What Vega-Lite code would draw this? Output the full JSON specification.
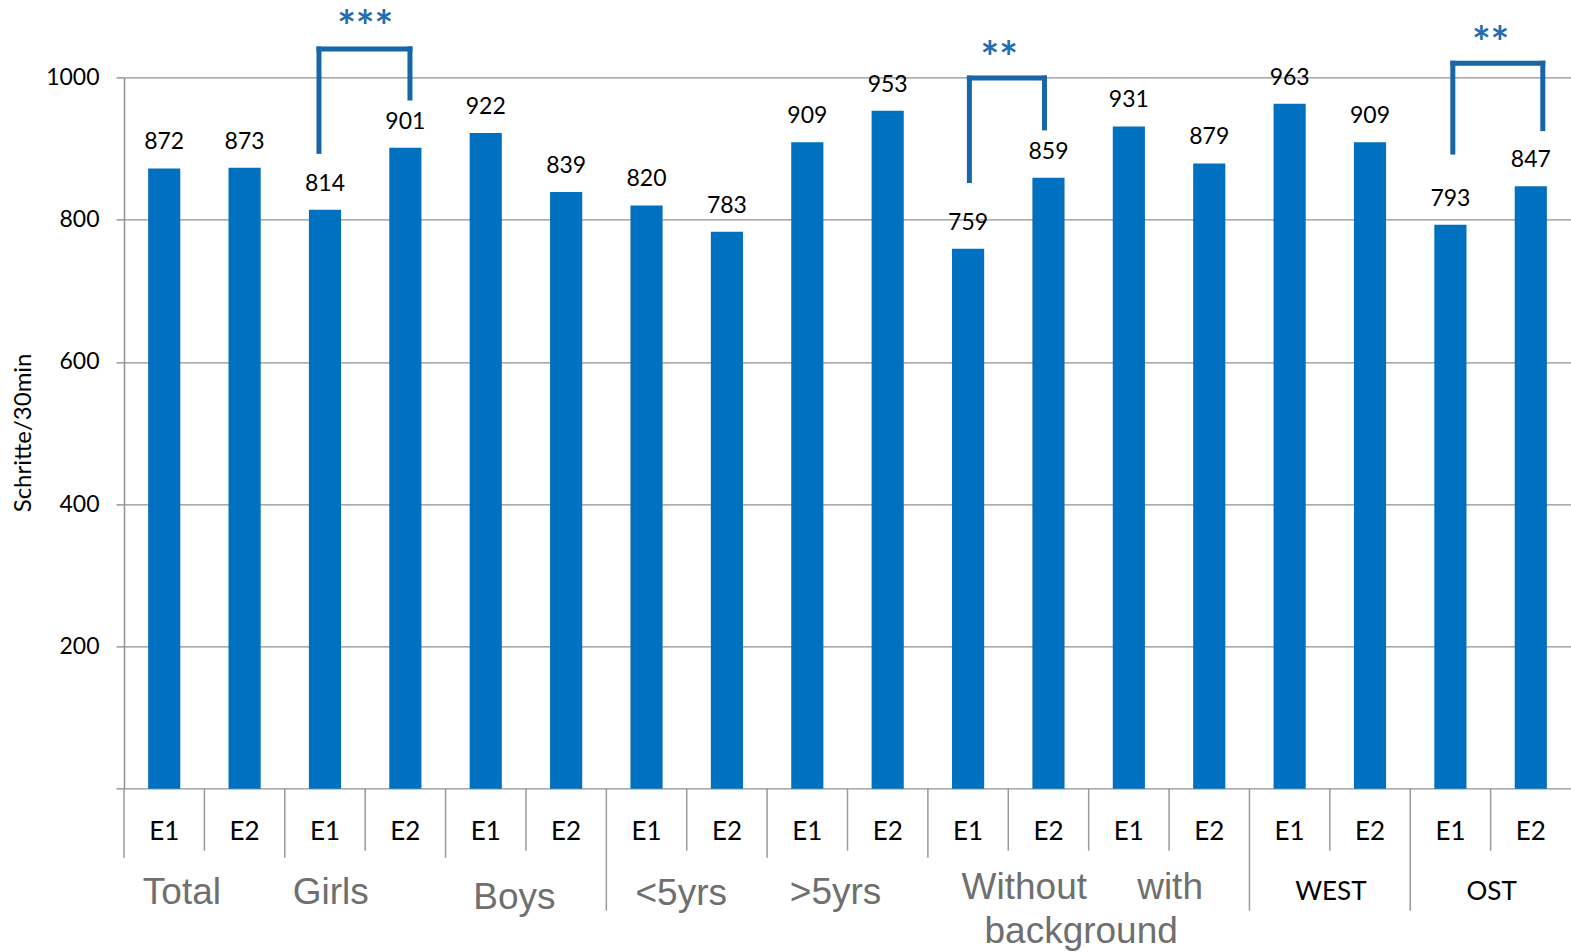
{
  "$schema": "https://vega.github.io/schema/vega-lite/v6.json",
  "autosize": "none",
  "padding": {"left": 124, "top": 77.4, "right": 0, "bottom": 163},
  "width": 1447,
  "height": 711.3,
  "background": "white",
  "config": {"view": {"stroke": null}, "font": "Lato"},
  "datasets": {
    "bars": [
      {"group": "Total", "phase": "E1", "slot": "Total|E1", "value": 872},
      {"group": "Total", "phase": "E2", "slot": "Total|E2", "value": 873},
      {"group": "Girls", "phase": "E1", "slot": "Girls|E1", "value": 814},
      {"group": "Girls", "phase": "E2", "slot": "Girls|E2", "value": 901},
      {"group": "Boys", "phase": "E1", "slot": "Boys|E1", "value": 922},
      {"group": "Boys", "phase": "E2", "slot": "Boys|E2", "value": 839},
      {"group": "<5yrs", "phase": "E1", "slot": "<5yrs|E1", "value": 820},
      {"group": "<5yrs", "phase": "E2", "slot": "<5yrs|E2", "value": 783},
      {"group": ">5yrs", "phase": "E1", "slot": ">5yrs|E1", "value": 909},
      {"group": ">5yrs", "phase": "E2", "slot": ">5yrs|E2", "value": 953},
      {"group": "Without", "phase": "E1", "slot": "Without|E1", "value": 759},
      {"group": "Without", "phase": "E2", "slot": "Without|E2", "value": 859},
      {"group": "with", "phase": "E1", "slot": "with|E1", "value": 931},
      {"group": "with", "phase": "E2", "slot": "with|E2", "value": 879},
      {"group": "WEST", "phase": "E1", "slot": "WEST|E1", "value": 963},
      {"group": "WEST", "phase": "E2", "slot": "WEST|E2", "value": 909},
      {"group": "OST", "phase": "E1", "slot": "OST|E1", "value": 793},
      {"group": "OST", "phase": "E2", "slot": "OST|E2", "value": 847}
    ],
    "groups": [
      {"label": "Total", "slot": "Total|E2"},
      {"label": "Girls", "slot": "Girls|E2"},
      {"label": "Boys", "slot": "Boys|E2"},
      {"label": "<5yrs", "slot": "<5yrs|E2"},
      {"label": ">5yrs", "slot": ">5yrs|E2"},
      {"label": "Without", "slot": "Without|E2"},
      {"label": "with", "slot": "with|E2"},
      {"label": "background", "slot": "with|E1"},
      {"label": "WEST", "slot": "WEST|E2"},
      {"label": "OST", "slot": "OST|E2"}
    ],
    "brackets": [
      {"name": "Girls", "left": "Girls|E1", "right": "Girls|E2", "top": 1040, "leftEnd": 896, "rightEnd": 971, "stars": "***", "starY": 1086},
      {"name": "Without", "left": "Without|E1", "right": "Without|E2", "top": 999, "leftEnd": 855, "rightEnd": 929, "stars": "**", "starY": 1043},
      {"name": "OST", "left": "OST|E1", "right": "OST|E2", "top": 1020, "leftEnd": 895, "rightEnd": 928, "stars": "**", "starY": 1064}
    ]
  },
  "layer": [
    {
      "data": {"name": "bars"},
      "mark": {"type": "bar", "color": "#0070c0"},
      "encoding": {
        "x": {
          "field": "slot", "type": "nominal", "sort": null,
          "scale": {
            "domain": ["Total|E1","Total|E2","Girls|E1","Girls|E2","Boys|E1","Boys|E2","<5yrs|E1","<5yrs|E2",">5yrs|E1",">5yrs|E2","Without|E1","Without|E2","with|E1","with|E2","WEST|E1","WEST|E2","OST|E1","OST|E2"],
            "paddingInner": 0.6, "paddingOuter": 0.3
          },
          "axis": null
        },
        "y": {
          "field": "value", "type": "quantitative",
          "scale": {"domain": [0, 1000], "nice": false},
          "axis": {
            "values": [0, 200, 400, 600, 800, 1000],
            "format": "d",
            "labelExpr": "datum.value == 0 ? '' : datum.label",
            "grid": true, "gridColor": "#929292", "gridWidth": 1.4,
            "domain": true, "domainColor": "#929292", "domainWidth": 1.5,
            "ticks": true, "tickColor": "#929292", "tickWidth": 1.4, "tickSize": 8,
            "labelFont": "Lato", "labelFontSize": 23, "labelColor": "#000000", "labelPadding": 17,
            "title": "Schritte/30min", "titleFont": "Lato", "titleFontSize": 24, "titleFontWeight": "normal",
            "titleColor": "#000000", "titleX": -101, "titleY": 355, "titleAngle": -90,
            "titleAlign": "center", "titleBaseline": "middle"
          }
        }
      }
    },
    {
      "data": {"name": "bars"},
      "transform": [{"filter": "indexof(['<5yrs|E1','WEST|E1','OST|E1'], datum.slot) >= 0"}],
      "mark": {"type": "rule", "color": "#9a9a9a", "strokeWidth": 1.5, "xOffset": -40.19, "y2Offset": 122},
      "encoding": {"x": {"field": "slot", "type": "nominal", "axis": null}, "y": {"value": "height"}, "y2": {"value": "height"}}
    },
    {
      "data": {"name": "bars"},
      "transform": [{"filter": "indexof(['Total|E1','Girls|E1','Boys|E1','>5yrs|E1','Without|E1'], datum.slot) >= 0"}],
      "mark": {"type": "rule", "color": "#9a9a9a", "strokeWidth": 1.5, "xOffset": -40.19, "y2Offset": 69},
      "encoding": {"x": {"field": "slot", "type": "nominal", "axis": null}, "y": {"value": "height"}, "y2": {"value": "height"}}
    },
    {
      "data": {"name": "bars"},
      "transform": [{"filter": "indexof(['<5yrs|E1','WEST|E1','OST|E1','Total|E1','Girls|E1','Boys|E1','>5yrs|E1','Without|E1'], datum.slot) < 0"}],
      "mark": {"type": "rule", "color": "#9a9a9a", "strokeWidth": 1.5, "xOffset": -40.19, "y2Offset": 62},
      "encoding": {"x": {"field": "slot", "type": "nominal", "axis": null}, "y": {"value": "height"}, "y2": {"value": "height"}}
    },
    {
      "data": {"name": "bars"},
      "mark": {"type": "text", "font": "Lato", "fontSize": 23, "color": "#000000", "align": "center", "baseline": "alphabetic", "dy": -19},
      "encoding": {
        "x": {"field": "slot", "type": "nominal", "axis": null},
        "y": {"field": "value", "type": "quantitative"},
        "text": {"field": "value", "type": "quantitative"}
      }
    },
    {
      "data": {"name": "bars"},
      "mark": {"type": "text", "font": "Lato", "fontSize": 26, "color": "#000000", "align": "center", "baseline": "alphabetic", "dy": 51.3},
      "encoding": {
        "x": {"field": "slot", "type": "nominal", "axis": null},
        "y": {"value": "height"},
        "text": {"field": "phase", "type": "nominal"}
      }
    },
    {
      "data": {"name": "groups"},
      "transform": [{"filter": "datum.label == 'Total'"}],
      "mark": {"type": "text", "font": "Liberation Sans", "fontSize": 37, "color": "#6f6f6f", "align": "center", "baseline": "alphabetic", "dx": -46.6, "dy": 115.3},
      "encoding": {"x": {"field": "slot", "type": "nominal", "bandPosition": 0, "axis": null}, "y": {"value": "height"}, "text": {"field": "label"}}
    },
    {
      "data": {"name": "groups"},
      "transform": [{"filter": "datum.label == 'Girls'"}],
      "mark": {"type": "text", "font": "Liberation Sans", "fontSize": 37, "color": "#6f6f6f", "align": "center", "baseline": "alphabetic", "dx": -58.6, "dy": 115.3},
      "encoding": {"x": {"field": "slot", "type": "nominal", "bandPosition": 0, "axis": null}, "y": {"value": "height"}, "text": {"field": "label"}}
    },
    {
      "data": {"name": "groups"},
      "transform": [{"filter": "datum.label == 'Boys'"}],
      "mark": {"type": "text", "font": "Liberation Sans", "fontSize": 37, "color": "#6f6f6f", "align": "center", "baseline": "alphabetic", "dx": -35.6, "dy": 120.3},
      "encoding": {"x": {"field": "slot", "type": "nominal", "bandPosition": 0, "axis": null}, "y": {"value": "height"}, "text": {"field": "label"}}
    },
    {
      "data": {"name": "groups"},
      "transform": [{"filter": "datum.label == '<5yrs'"}],
      "mark": {"type": "text", "font": "Liberation Sans", "fontSize": 37, "color": "#6f6f6f", "align": "center", "baseline": "alphabetic", "dx": -29.6, "dy": 116},
      "encoding": {"x": {"field": "slot", "type": "nominal", "bandPosition": 0, "axis": null}, "y": {"value": "height"}, "text": {"field": "label"}}
    },
    {
      "data": {"name": "groups"},
      "transform": [{"filter": "datum.label == '>5yrs'"}],
      "mark": {"type": "text", "font": "Liberation Sans", "fontSize": 37, "color": "#6f6f6f", "align": "center", "baseline": "alphabetic", "dx": -36.1, "dy": 115.3},
      "encoding": {"x": {"field": "slot", "type": "nominal", "bandPosition": 0, "axis": null}, "y": {"value": "height"}, "text": {"field": "label"}}
    },
    {
      "data": {"name": "groups"},
      "transform": [{"filter": "datum.label == 'Without'"}],
      "mark": {"type": "text", "font": "Liberation Sans", "fontSize": 37, "color": "#6f6f6f", "align": "center", "baseline": "alphabetic", "dx": -8.1, "dy": 110.6},
      "encoding": {"x": {"field": "slot", "type": "nominal", "bandPosition": 0, "axis": null}, "y": {"value": "height"}, "text": {"field": "label"}}
    },
    {
      "data": {"name": "groups"},
      "transform": [{"filter": "datum.label == 'with'"}],
      "mark": {"type": "text", "font": "Liberation Sans", "fontSize": 37, "color": "#6f6f6f", "align": "center", "baseline": "alphabetic", "dx": -23.1, "dy": 110.6},
      "encoding": {"x": {"field": "slot", "type": "nominal", "bandPosition": 0, "axis": null}, "y": {"value": "height"}, "text": {"field": "label"}}
    },
    {
      "data": {"name": "groups"},
      "transform": [{"filter": "datum.label == 'background'"}],
      "mark": {"type": "text", "font": "Liberation Sans", "fontSize": 37, "color": "#6f6f6f", "align": "center", "baseline": "alphabetic", "dx": -31.6, "dy": 154},
      "encoding": {"x": {"field": "slot", "type": "nominal", "bandPosition": 0, "axis": null}, "y": {"value": "height"}, "text": {"field": "label"}}
    },
    {
      "data": {"name": "groups"},
      "transform": [{"filter": "datum.label == 'WEST' || datum.label == 'OST'"}],
      "mark": {"type": "text", "font": "Lato", "fontSize": 26, "color": "#000000", "align": "center", "baseline": "alphabetic", "dx": -23.1, "dy": 111.3},
      "encoding": {"x": {"field": "slot", "type": "nominal", "bandPosition": 0, "axis": null}, "y": {"value": "height"}, "text": {"field": "label"}}
    },
    {
      "data": {"name": "brackets"},
      "transform": [{"filter": "datum.name == 'Girls'"}],
      "mark": {"type": "rule", "color": "#1766a8", "strokeWidth": 5, "strokeCap": "square", "xOffset": -6},
      "encoding": {"x": {"field": "left", "type": "nominal", "axis": null}, "y": {"field": "top", "type": "quantitative"}, "y2": {"field": "leftEnd"}}
    },
    {
      "data": {"name": "brackets"},
      "transform": [{"filter": "datum.name == 'Girls'"}],
      "mark": {"type": "rule", "color": "#1766a8", "strokeWidth": 5, "strokeCap": "square", "xOffset": 4.6},
      "encoding": {"x": {"field": "right", "type": "nominal", "axis": null}, "y": {"field": "top", "type": "quantitative"}, "y2": {"field": "rightEnd"}}
    },
    {
      "data": {"name": "brackets"},
      "transform": [{"filter": "datum.name == 'Girls'"}],
      "mark": {"type": "rule", "color": "#1766a8", "strokeWidth": 5, "strokeCap": "square", "xOffset": -6, "x2Offset": 4.6},
      "encoding": {"x": {"field": "left", "type": "nominal", "axis": null}, "x2": {"field": "right"}, "y": {"field": "top", "type": "quantitative"}}
    },
    {
      "data": {"name": "brackets"},
      "transform": [{"filter": "datum.name == 'Without'"}],
      "mark": {"type": "rule", "color": "#1766a8", "strokeWidth": 5, "strokeCap": "square", "xOffset": 1.3},
      "encoding": {"x": {"field": "left", "type": "nominal", "axis": null}, "y": {"field": "top", "type": "quantitative"}, "y2": {"field": "leftEnd"}}
    },
    {
      "data": {"name": "brackets"},
      "transform": [{"filter": "datum.name == 'Without'"}],
      "mark": {"type": "rule", "color": "#1766a8", "strokeWidth": 5, "strokeCap": "square", "xOffset": -4},
      "encoding": {"x": {"field": "right", "type": "nominal", "axis": null}, "y": {"field": "top", "type": "quantitative"}, "y2": {"field": "rightEnd"}}
    },
    {
      "data": {"name": "brackets"},
      "transform": [{"filter": "datum.name == 'Without'"}],
      "mark": {"type": "rule", "color": "#1766a8", "strokeWidth": 5, "strokeCap": "square", "xOffset": 1.3, "x2Offset": -4},
      "encoding": {"x": {"field": "left", "type": "nominal", "axis": null}, "x2": {"field": "right"}, "y": {"field": "top", "type": "quantitative"}}
    },
    {
      "data": {"name": "brackets"},
      "transform": [{"filter": "datum.name == 'OST'"}],
      "mark": {"type": "rule", "color": "#1766a8", "strokeWidth": 5, "strokeCap": "square", "xOffset": 2.4},
      "encoding": {"x": {"field": "left", "type": "nominal", "axis": null}, "y": {"field": "top", "type": "quantitative"}, "y2": {"field": "leftEnd"}}
    },
    {
      "data": {"name": "brackets"},
      "transform": [{"filter": "datum.name == 'OST'"}],
      "mark": {"type": "rule", "color": "#1766a8", "strokeWidth": 5, "strokeCap": "square", "xOffset": 12},
      "encoding": {"x": {"field": "right", "type": "nominal", "axis": null}, "y": {"field": "top", "type": "quantitative"}, "y2": {"field": "rightEnd"}}
    },
    {
      "data": {"name": "brackets"},
      "transform": [{"filter": "datum.name == 'OST'"}],
      "mark": {"type": "rule", "color": "#1766a8", "strokeWidth": 5, "strokeCap": "square", "xOffset": 2.4, "x2Offset": 12},
      "encoding": {"x": {"field": "left", "type": "nominal", "axis": null}, "x2": {"field": "right"}, "y": {"field": "top", "type": "quantitative"}}
    },
    {
      "data": {"name": "brackets"},
      "transform": [{"filter": "datum.name != 'Without'"}],
      "mark": {"type": "text", "font": "Lato", "fontSize": 44, "fontWeight": "bold", "color": "#1f6fb2", "align": "center", "baseline": "alphabetic", "dx": -24.1, "dy": 26},
      "encoding": {"x": {"field": "right", "type": "nominal", "bandPosition": 0, "axis": null}, "y": {"field": "starY", "type": "quantitative"}, "text": {"field": "stars"}}
    },
    {
      "data": {"name": "brackets"},
      "transform": [{"filter": "datum.name == 'Without'"}],
      "mark": {"type": "text", "font": "Lato", "fontSize": 44, "fontWeight": "bold", "color": "#1f6fb2", "align": "center", "baseline": "alphabetic", "dx": -33.1, "dy": 26},
      "encoding": {"x": {"field": "right", "type": "nominal", "bandPosition": 0, "axis": null}, "y": {"field": "starY", "type": "quantitative"}, "text": {"field": "stars"}}
    }
  ]
}
